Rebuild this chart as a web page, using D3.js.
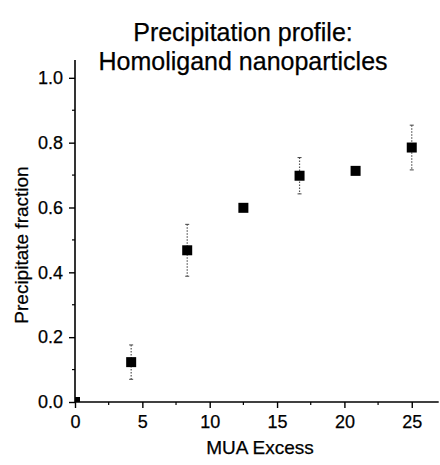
<!DOCTYPE html>
<html><head><meta charset="utf-8">
<script src="https://cdn.jsdelivr.net/npm/d3@7"></script>
<style>
body{margin:0;background:#fff;}
svg{display:block;}
text{font-family:"Liberation Sans",Arial,sans-serif;fill:#000;stroke:#000;stroke-width:0.25px;}
</style></head>
<body>
<svg id="chart" width="440" height="465"></svg>
<script>
const titleLines = ["Precipitation profile:", "Homoligand nanoparticles"];
const xLabel = "MUA Excess";
const yLabel = "Precipitate fraction";
const muaExcess = [0, 4.17, 8.33, 12.5, 16.67, 20.83, 25];
const fraction = [0, 0.123, 0.468, 0.599, 0.698, 0.713, 0.785];
const errors = [0, 0.053, 0.08, 0.004, 0.056, 0.008, 0.069];
const xTicks = [0, 5, 10, 15, 20, 25];
const yTicks = [0, 0.2, 0.4, 0.6, 0.8, 1.0];
const xMinor = [2.5, 7.5, 12.5, 17.5, 22.5];
const yMinor = [0.1, 0.3, 0.5, 0.7, 0.9];

const svg = d3.select("#chart");
const x = d3.scaleLinear().domain([0, 27]).range([75, 438.7]);
const y = d3.scaleLinear().domain([0, 1.055]).range([402, 60]);

// title
svg.append("text").attr("text-anchor", "middle")
  .style("font-size", "25px")
  .selectAll("tspan").data(titleLines).join("tspan")
  .attr("x", 243).attr("y", (d, i) => 41 + i * 29).text(d => d);

// clip
svg.append("clipPath").attr("id", "plotclip").append("rect")
  .attr("x", 75).attr("y", 55).attr("width", 370).attr("height", 347);

// axes
const xAxis = svg.append("g").attr("transform", "translate(0,402)")
  .call(d3.axisBottom(x).tickValues(xTicks).tickFormat(d3.format("d")).tickSize(6).tickPadding(7));
xAxis.select(".domain").attr("d", `M${x.range()[0]},0H${x.range()[1]}`).attr("stroke-width", 1.6);
xAxis.selectAll(".tick line").attr("stroke-width", 1.4);
xAxis.selectAll("text").style("font-size", "18px");
svg.append("g").attr("transform", "translate(0,402)")
  .selectAll("line").data(xMinor).join("line")
  .attr("x1", d => x(d)).attr("x2", d => x(d)).attr("y1", 0).attr("y2", 3)
  .attr("stroke", "#000").attr("stroke-width", 1.2);

const yAxis = svg.append("g").attr("transform", "translate(75,0)")
  .call(d3.axisLeft(y).tickValues(yTicks).tickFormat(d3.format(".1f")).tickSize(6).tickPadding(6));
yAxis.select(".domain").attr("d", `M0,${y.range()[0]}V${y.range()[1]}`).attr("stroke-width", 1.6);
yAxis.selectAll(".tick line").attr("stroke-width", 1.4);
yAxis.selectAll("text").style("font-size", "18px");
svg.append("g").attr("transform", "translate(75,0)")
  .selectAll("line").data(yMinor).join("line")
  .attr("x1", 0).attr("x2", -3).attr("y1", d => y(d)).attr("y2", d => y(d))
  .attr("stroke", "#000").attr("stroke-width", 1.2);

// axis labels
svg.append("text").attr("x", 260).attr("y", 454).attr("text-anchor", "middle")
  .style("font-size", "19px").text(xLabel);
svg.append("text").attr("transform", "translate(28,245) rotate(-90)")
  .attr("text-anchor", "middle").style("font-size", "19px").text(yLabel);

// data
const pts = muaExcess.map((d, i) => ({x: d, y: fraction[i], e: errors[i]}));
const plot = svg.append("g").attr("clip-path", "url(#plotclip)");
const eb = plot.selectAll("g.eb").data(pts.filter(d => d.e > 0.01)).join("g").attr("class", "eb");
eb.append("line")
  .attr("x1", d => x(d.x)).attr("x2", d => x(d.x))
  .attr("y1", d => y(d.y + d.e)).attr("y2", d => y(d.y - d.e))
  .attr("stroke", "#555").attr("stroke-width", 1.2).attr("stroke-dasharray", "1.5,1.5");
eb.selectAll("line.cap").data(d => [d.y + d.e, d.y - d.e].map(v => ({x: d.x, v}))).join("line")
  .attr("class", "cap")
  .attr("x1", d => x(d.x) - 2).attr("x2", d => x(d.x) + 2)
  .attr("y1", d => y(d.v)).attr("y2", d => y(d.v))
  .attr("stroke", "#444").attr("stroke-width", 1);
plot.selectAll("rect.pt").data(pts).join("rect").attr("class", "pt")
  .attr("x", d => x(d.x) - 5).attr("y", d => y(d.y) - 5)
  .attr("width", 10).attr("height", 10).attr("fill", "#000");
</script>
</body></html>
